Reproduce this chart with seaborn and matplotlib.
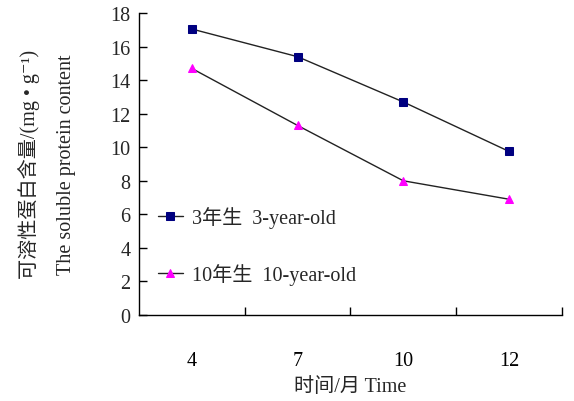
import matplotlib
matplotlib.use("Agg")
import matplotlib.pyplot as plt
import seaborn as sns
from matplotlib.ticker import FixedLocator

# Data
months = ["4", "7", "10", "12"]
three_year = [17.05, 15.4, 12.7, 9.75]
ten_year = [14.7, 11.3, 8.0, 6.9]
series_labels = ["3年生  3-year-old", "10年生  10-year-old"]
y_ticks = [0, 2, 4, 6, 8, 10, 12, 14, 16, 18]

sns.set_theme(style="white")
plt.rcParams["font.family"] = ["Liberation Serif", "Noto Sans CJK SC", "DejaVu Serif"]

FS = 14.5

fig = plt.figure(figsize=(5.74, 4.02), dpi=100)
ax = fig.add_axes([0.242, 0.214, 0.737, 0.751])

sns.lineplot(x=months, y=three_year, ax=ax, color="#222222", linewidth=1.0,
             marker="s", markersize=6, markerfacecolor="#000080",
             markeredgecolor="#000080", label=series_labels[0])
sns.lineplot(x=months, y=ten_year, ax=ax, color="#222222", linewidth=1.0,
             marker="^", markersize=6, markerfacecolor="#FF00FF",
             markeredgecolor="#FF00FF", label=series_labels[1])

ax.set_xlim(-0.5, len(months) - 0.5)
ax.set_ylim(0, 18)
ax.set_yticks(y_ticks)

# category labels sit below the axis; boundary ticks between categories
ax.tick_params(axis="x", which="major", length=0, pad=26, labelsize=FS, colors="black")
ax.xaxis.set_minor_locator(FixedLocator([0.5, 1.5, 2.5, 3.5]))
ax.tick_params(axis="x", which="minor", direction="in", length=6, width=1, color="black", bottom=True)
ax.tick_params(axis="y", direction="in", length=6, width=1, color="black", left=True,
               labelsize=FS, pad=6)

for side in ("top", "right"):
    ax.spines[side].set_visible(False)
for side in ("left", "bottom"):
    ax.spines[side].set_color("black")
    ax.spines[side].set_linewidth(1.0)

ax.set_xlabel("时间/月 Time", fontsize=FS, labelpad=5)
ax.set_ylabel("")
fig.text(0.05, 0.59, "可溶性蛋白含量/(mg • g⁻¹)", rotation=90, fontsize=FS,
         ha="center", va="center")
fig.text(0.115, 0.59, "The soluble protein content", rotation=90, fontsize=FS,
         ha="center", va="center")

ax.legend(loc="upper left", bbox_to_anchor=(0.025, 0.387), frameon=False, fontsize=FS,
          labelspacing=1.75, handlelength=1.25, handletextpad=0.45, borderaxespad=0)

fig.savefig("out.png", dpi=100, facecolor="white")
